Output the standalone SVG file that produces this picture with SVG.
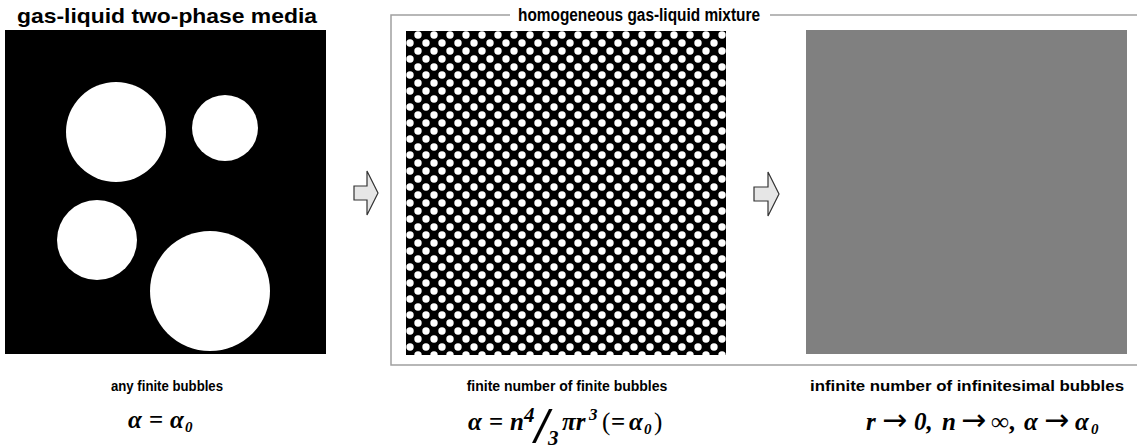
<svg xmlns="http://www.w3.org/2000/svg" width="1137" height="448" viewBox="0 0 1137 448">
<style>
.title{font-family:"Liberation Sans",Arial,sans-serif;font-weight:bold;fill:#000;text-anchor:middle}
.label{font-family:"Liberation Sans",Arial,sans-serif;font-weight:bold;font-size:14px;fill:#000;text-anchor:middle}
.eq{font-family:"Liberation Serif","Times New Roman",serif;font-weight:bold;font-style:italic;font-size:25px;fill:#000}
.up{font-style:normal}
.arr{font-family:"DejaVu Sans",sans-serif;font-style:normal;font-weight:normal;font-size:30px}
.frame{fill:none;stroke:#a0a0a0;stroke-width:1.5}
.arrow{fill:#e6e6e6;stroke:#333;stroke-width:1.2;stroke-linejoin:miter}
</style>
<defs>
<pattern id="dots" patternUnits="userSpaceOnUse" x="406" y="31" width="16" height="16">
<rect width="16" height="16" fill="#000"/>
<circle cx="12" cy="4" r="3.7" fill="#fff"/>
<circle cx="4" cy="12" r="3.7" fill="#fff"/>
</pattern>
</defs>
<rect width="1137" height="448" fill="#fff"/>

<g id="frame">
<polyline class="frame" points="510,15 391,15 391,365 1137,365"/>
<line class="frame" x1="770" y1="15" x2="1137" y2="15"/>
<text class="title" x="639" y="21" font-size="18" textLength="242" lengthAdjust="spacingAndGlyphs">homogeneous gas-liquid mixture</text>
</g>

<g id="media">
<text class="title" x="167" y="23" font-size="21" textLength="300" lengthAdjust="spacingAndGlyphs">gas-liquid two-phase media</text>
<rect x="5" y="30" width="321" height="324" fill="#000"/>
<circle cx="116" cy="132" r="50" fill="#fff"/>
<circle cx="225" cy="128" r="33" fill="#fff"/>
<circle cx="97" cy="240" r="40" fill="#fff"/>
<circle cx="210" cy="291" r="60" fill="#fff"/>
<text class="label" x="167" y="391" font-size="14" textLength="112" lengthAdjust="spacingAndGlyphs">any finite bubbles</text>
<text class="eq" y="428"><tspan x="128">α</tspan><tspan class="up" x="149">=</tspan><tspan x="170">α</tspan><tspan x="185" font-size="15" dy="4">0</tspan></text>
</g>

<g id="finite">
<rect x="406" y="31" width="320" height="324" fill="url(#dots)"/>
<text class="label" x="567" y="391">finite number of finite bubbles</text>
<text class="eq" y="430"><tspan x="468">α</tspan><tspan class="up" x="489">=</tspan><tspan x="510">n</tspan><tspan x="524" y="422" font-size="21">4</tspan><tspan x="548" y="445" font-size="21">3</tspan><tspan x="562" y="430">πr</tspan><tspan x="589" y="420" font-size="17">3</tspan><tspan class="up" x="602" y="430" font-weight="normal">(</tspan><tspan class="up" x="611">=</tspan><tspan x="629">α</tspan><tspan x="644" dy="4" font-size="15">0</tspan><tspan class="up" x="654" y="430" font-weight="normal">)</tspan></text>
<text transform="translate(532,442) scale(1.45,1)" font-family="Liberation Serif,serif" font-size="51">/</text>
</g>

<g id="infinite">
<rect x="806" y="30" width="321" height="324" fill="#808080"/>
<text class="label" x="967" y="391" textLength="314" lengthAdjust="spacingAndGlyphs">infinite number of infinitesimal bubbles</text>
<text class="eq" y="430"><tspan x="866">r</tspan><tspan class="arr" x="882">→</tspan><tspan x="914">0,</tspan><tspan x="942">n</tspan><tspan class="arr" x="961">→</tspan><tspan class="up" x="991">∞,</tspan><tspan x="1024">α</tspan><tspan class="arr" x="1044">→</tspan><tspan x="1075">α</tspan><tspan x="1091" font-size="15" dy="4">0</tspan></text>
</g>

<g id="connectors">
<polygon class="arrow" points="354,186 367,186 367,171 378,193 367,215 367,200 354,200"/>
<polygon class="arrow" points="754,187 768,187 768,172 779,194 768,216 768,201 754,201"/>
</g>
</svg>
